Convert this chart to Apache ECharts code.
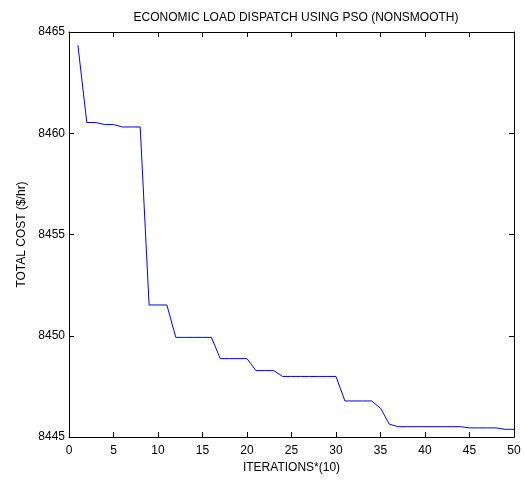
<!DOCTYPE html>
<html>
<head>
<meta charset="utf-8">
<script src="https://cdn.jsdelivr.net/npm/echarts@6/dist/echarts.min.js"></script>
<style>
  html, body { margin: 0; padding: 0; background: #fff; }
  #main { width: 524px; height: 480px; }
</style>
</head>
<body>
<div id="main"></div>
<script>
// iteration number (x10) and best total cost found so far
var iterations = [1, 2, 3, 4, 5, 6, 7, 8, 9, 10,
  11, 12, 13, 14, 15, 16, 17, 18, 19, 20,
  21, 22, 23, 24, 25, 26, 27, 28, 29, 30,
  31, 32, 33, 34, 35, 36, 37, 38, 39, 40,
  41, 42, 43, 44, 45, 46, 47, 48, 49, 50];
var totalCost = [8464.35, 8460.53, 8460.53, 8460.43, 8460.43, 8460.31, 8460.31, 8460.31, 8451.52, 8451.52,
  8451.52, 8449.92, 8449.92, 8449.92, 8449.92, 8449.92, 8448.87, 8448.87, 8448.87, 8448.87,
  8448.28, 8448.28, 8448.28, 8447.99, 8447.99, 8447.99, 8447.99, 8447.99, 8447.99, 8447.99,
  8446.78, 8446.78, 8446.78, 8446.78, 8446.42, 8445.63, 8445.51, 8445.51, 8445.51, 8445.51,
  8445.51, 8445.51, 8445.51, 8445.51, 8445.45, 8445.45, 8445.45, 8445.45, 8445.38, 8445.38];
var xTicks = [0, 50, 5];      // min, max, interval
var yTicks = [8445, 8465, 5];

var font = 'Liberation Sans, Arial, Helvetica, sans-serif';

var chart = echarts.init(document.getElementById('main'));

var boxAxis = {
  axisLine: { show: true, onZero: false, lineStyle: { color: '#000', width: 1 } },
  axisTick: { show: true, inside: true, length: 5, lineStyle: { color: '#000' } },
  splitLine: { show: false }
};

var option = {
  animation: false,
  backgroundColor: '#fff',
  title: {
    text: 'ECONOMIC LOAD DISPATCH USING PSO (NONSMOOTH)',
    left: 291,
    top: 7,
    textAlign: 'center',
    textStyle: { fontFamily: font, fontSize: 12, fontWeight: 'normal', color: '#000' }
  },
  grid: { left: 69, right: 10, top: 32, bottom: 43 },
  xAxis: [
    Object.assign({
      type: 'value',
      min: xTicks[0], max: xTicks[1], interval: xTicks[2],
      position: 'bottom',
      name: 'ITERATIONS*(10)',
      nameLocation: 'middle',
      nameGap: 23,
      nameTextStyle: { fontFamily: font, fontSize: 12, color: '#000' },
      axisLabel: { margin: 8, fontFamily: font, fontSize: 12, color: '#000' }
    }, boxAxis),
    Object.assign({
      type: 'value',
      min: xTicks[0], max: xTicks[1], interval: xTicks[2],
      position: 'top',
      axisLabel: { show: false }
    }, boxAxis)
  ],
  yAxis: [
    Object.assign({
      type: 'value',
      min: yTicks[0], max: yTicks[1], interval: yTicks[2],
      position: 'left',
      name: 'TOTAL COST ($/hr)',
      nameLocation: 'middle',
      nameGap: 41,
      nameTextStyle: { fontFamily: font, fontSize: 12, color: '#000' },
      axisLabel: {
        margin: 4, fontFamily: font, fontSize: 12, color: '#000',
        formatter: function (v) { return String(v); }
      }
    }, boxAxis),
    Object.assign({
      type: 'value',
      min: yTicks[0], max: yTicks[1], interval: yTicks[2],
      position: 'right',
      axisLabel: { show: false }
    }, boxAxis)
  ],
  series: [{
    type: 'line',
    xAxisIndex: 0,
    yAxisIndex: 0,
    data: iterations.map(function (it, i) { return [it, totalCost[i]]; }),
    showSymbol: false,
    lineStyle: { color: '#0000ff', width: 1 },
    itemStyle: { color: '#0000ff' }
  }]
};

chart.setOption(option);
</script>
</body>
</html>
